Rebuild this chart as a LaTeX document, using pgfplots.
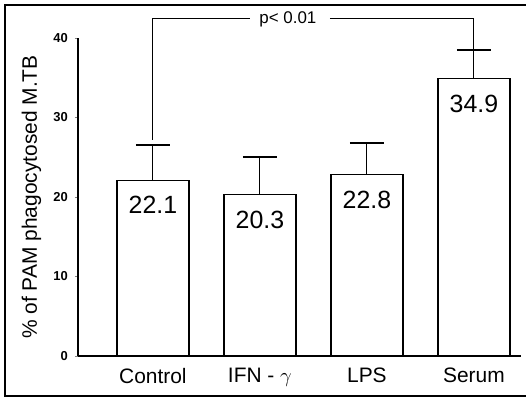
\documentclass[border=0pt]{standalone}
\usepackage{fontspec}
\setmainfont{Liberation Sans}
\usepackage{pgfplots}
\pgfplotsset{compat=1.18}

\begin{document}
\begin{tikzpicture}
\useasboundingbox (-78bp,-44bp) rectangle (448bp,356bp);
% outer frame (right side is cut off in the original)
\draw[line width=1.3bp] (448bp,351bp) -- (-73bp,351bp) -- (-73bp,-40bp) -- (448bp,-40bp);
\begin{axis}[
  scale only axis,
  width=443bp, height=318bp,
  xmin=-0.70, xmax=3.44,
  ymin=0, ymax=40,
  axis lines*=left,
  axis line style={line width=1.3bp},
  clip=false,
  xtick=data,
  xticklabels={Control, IFN - $\gamma$, LPS, Serum},
  xtick style={draw=none},
  xticklabel style={font=\fontsize{21}{25}\selectfont, anchor=north, inner sep=0pt, yshift=-9bp},
  ytick={0,10,20,30,40},
  ytick style={line width=0.8bp},
  major tick length=3bp,
  tick align=outside,
  yticklabel style={font=\fontsize{13}{15}\selectfont\bfseries, anchor=east, inner sep=0pt, xshift=-7bp},
  /pgf/number format/assume math mode=true,
  ylabel={\% of PAM phagocytosed M.TB},
  every axis y label/.style={at={(axis description cs:-0.0926,0.5)}, rotate=90, anchor=base,
    font=\fontsize{21}{25}\selectfont},
]
\addplot[ybar, bar width=72bp, fill=white, draw=black, line width=1.2bp,
  error bars/.cd, y dir=plus, y explicit,
  error mark=|, error mark options={line width=1.8bp, mark size=17bp, black},
  error bar style={line width=0.9bp, black}]
  coordinates {
    (0,22.1) +- (0,4.4)
    (1,20.3) +- (0,4.7)
    (2,22.8) +- (0,4.0)
    (3,34.9) +- (0,3.6)
  };
\foreach \x/\v in {0/22.1, 1/20.3, 2/22.8, 3/34.9}{
  \edef\temp{\noexpand\node[anchor=north, inner sep=0pt, yshift=-16bp, font=\noexpand\fontsize{25}{30}\noexpand\selectfont] at (axis cs:\x,\v) {\v};}
  \temp
}
% significance bracket
\draw[line width=0.9bp] (axis cs:0,27.2) -- (axis cs:0,42.4) -- (axis cs:0.907,42.4);
\draw[line width=0.9bp] (axis cs:1.654,42.4) -- (axis cs:3,42.4) -- (axis cs:3,38.5);
\node[font=\fontsize{17}{20}\selectfont, inner sep=0pt] at (axis cs:1.262,42.4) {p< 0.01};
\end{axis}
\end{tikzpicture}
\end{document}
